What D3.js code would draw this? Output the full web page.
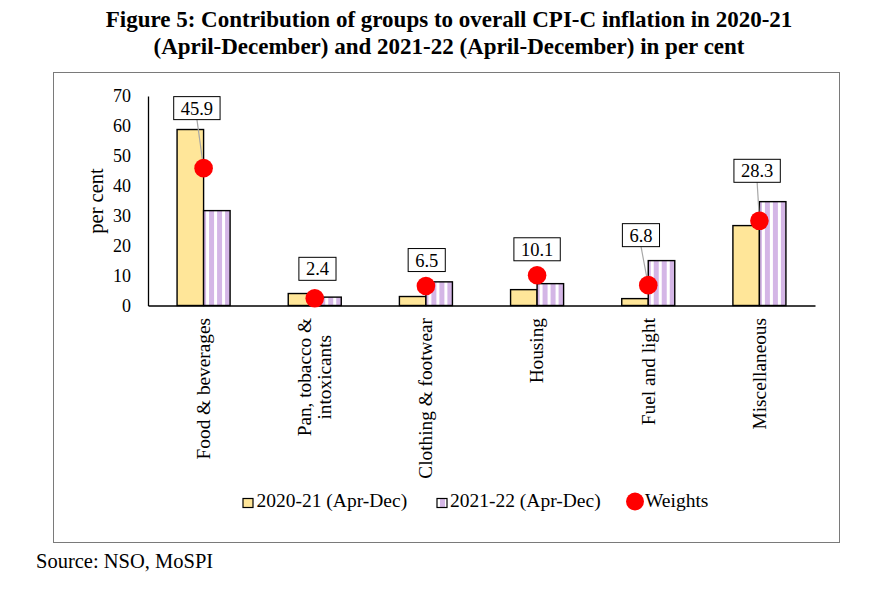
<!DOCTYPE html>
<html>
<head>
<meta charset="utf-8">
<script src="https://cdn.jsdelivr.net/npm/d3@7"></script>
<style>
  html, body { margin: 0; padding: 0; background: #fff; }
  svg { display: block; font-family: "Liberation Serif", "Times New Roman", serif; }
</style>
</head>
<body>
<svg id="chart" width="870" height="589"></svg>
<script>
// ---- data ----
const categories = ["Food & beverages", "Pan, tobacco &\nintoxicants", "Clothing & footwear", "Housing", "Fuel and light", "Miscellaneous"];
const series2020 = [58.8, 4.0, 3.0, 5.3, 2.3, 26.7];
const series2021 = [31.7, 2.8, 7.9, 7.3, 15.0, 34.7];
const weights = [45.9, 2.4, 6.5, 10.1, 6.8, 28.3];
const seriesNames = ["2020-21 (Apr-Dec)", "2021-22 (Apr-Dec)", "Weights"];
const yTicks = [0, 10, 20, 30, 40, 50, 60, 70];
const titleLines = ["Figure 5: Contribution of groups to overall CPI-C inflation in 2020-21", "(April-December) and 2021-22 (April-December) in per cent"];

// label placement (pixel offsets relative to the weight dot)
const labelLift = [60, 29.5, 26, 26, 50, 50];
const labelShift = [-6.7, 2.7, 0.8, 0, -7.3, -2.3];
const hasLeader = [true, false, false, false, true, true];

const svg = d3.select("#chart");
const YELLOW = "#FFE699", PURPLE = "#D4B6E6";

const defs = svg.append("defs");
const pat = defs.append("pattern").attr("id", "stripes").attr("patternUnits", "userSpaceOnUse")
  .attr("width", 8).attr("height", 8);
pat.append("rect").attr("width", 8).attr("height", 8).attr("fill", "#fff");
pat.append("rect").attr("x", 0).attr("width", 5).attr("height", 8).attr("fill", PURPLE);

// chart border
svg.append("rect").attr("x", 53.5).attr("y", 72.5).attr("width", 786).attr("height", 470)
  .attr("fill", "none").attr("stroke", "#7a7a7a").attr("stroke-width", 1);

// title
svg.append("g").selectAll("text").data(titleLines).join("text")
  .attr("x", 449).attr("y", (d, i) => 27 + i * 27)
  .attr("text-anchor", "middle").attr("font-weight", "bold").attr("font-size", 23)
  .text(d => d);

// scales
const x0 = d3.scaleBand().domain(categories).range([148, 815]).paddingInner(0.523).paddingOuter(0.2615);
const x1 = d3.scaleBand().domain([0, 1]).range([0, x0.bandwidth()]);
const y = d3.scaleLinear().domain([0, 70]).range([305.5, 96]);

// y axis
const yAxis = d3.axisLeft(y).tickValues(yTicks).tickSize(0).tickPadding(17);
const gy = svg.append("g").attr("transform", "translate(148,0)").call(yAxis);
gy.select(".domain").attr("stroke", "#000").attr("stroke-width", 1.3);
gy.selectAll(".tick text").attr("font-size", 18).attr("font-family", "Liberation Serif").attr("fill", "#000");

svg.append("text").attr("transform", "translate(103,201) rotate(-90)")
  .attr("text-anchor", "middle").attr("font-size", 20.5).text("per cent");

// bars
const groups = svg.append("g").selectAll("g").data(categories).join("g")
  .attr("transform", d => `translate(${x0(d)},0)`);
groups.append("rect")
  .attr("x", x1(0)).attr("width", x1.bandwidth())
  .attr("y", (d, i) => y(series2020[i])).attr("height", (d, i) => y(0) - y(series2020[i]))
  .attr("fill", YELLOW).attr("stroke", "#000").attr("stroke-width", 1.4);
groups.append("rect")
  .attr("x", x1(1)).attr("width", x1.bandwidth())
  .attr("y", (d, i) => y(series2021[i])).attr("height", (d, i) => y(0) - y(series2021[i]))
  .attr("fill", "url(#stripes)").attr("stroke", "#000").attr("stroke-width", 1.4);

// x axis
const xAxis = d3.axisBottom(x0).tickSize(0).tickFormat("");
const gx = svg.append("g").attr("transform", `translate(0,${y(0)})`).call(xAxis);
gx.select(".domain").attr("stroke", "#000").attr("stroke-width", 1.3);

// category labels (rotated)
const catG = svg.append("g");
categories.forEach((c, i) => {
  const lines = c.split("\n");
  const cx = x0(c) + x0.bandwidth() / 2;
  const t = catG.append("text").attr("font-size", 19.3).attr("text-anchor", "middle");
  const lh = 20;
  lines.forEach((ln, j) => {
    t.append("tspan").attr("x", 0).attr("y", (j - (lines.length - 1) / 2) * lh).attr("dy", "0.33em").text(ln);
  });
  let maxW = 0;
  t.selectAll("tspan").each(function () { maxW = Math.max(maxW, this.getComputedTextLength()); });
  t.attr("transform", `translate(${cx},${318 + maxW / 2}) rotate(-90)`);
});

// leader lines
const cxOf = i => x0(categories[i]) + x0.bandwidth() / 2;
svg.append("g").selectAll("line").data(weights.map((w, i) => i).filter(i => hasLeader[i])).join("line")
  .attr("x1", i => cxOf(i) + labelShift[i]).attr("y1", i => y(weights[i]) - labelLift[i] + 11)
  .attr("x2", i => cxOf(i)).attr("y2", i => y(weights[i]))
  .attr("stroke", "#a6a6a6").attr("stroke-width", 1.2);

// weight dots
svg.append("g").selectAll("circle").data(weights).join("circle")
  .attr("cx", (d, i) => cxOf(i)).attr("cy", d => y(d)).attr("r", 9.3).attr("fill", "#FF0000");

// data labels
const lab = svg.append("g").selectAll("g").data(weights).join("g")
  .attr("transform", (d, i) => `translate(${cxOf(i) + labelShift[i]},${y(d) - labelLift[i]})`);
lab.append("rect").attr("fill", "#fff").attr("stroke", "#000").attr("stroke-width", 1);
lab.append("text").attr("text-anchor", "middle").attr("dy", "0.35em").attr("font-size", 18.5)
  .text(d => d.toFixed(1));
lab.each(function () {
  const g = d3.select(this);
  const w = g.select("text").node().getComputedTextLength();
  g.select("rect").attr("x", -w / 2 - 7).attr("y", -11.5).attr("width", w + 14).attr("height", 23);
});

// legend
const leg = svg.append("g");
leg.append("rect").attr("x", 243).attr("y", 498.5).attr("width", 10).attr("height", 9)
  .attr("fill", YELLOW).attr("stroke", "#000").attr("stroke-width", 1.2);
leg.append("text").attr("x", 256.5).attr("y", 507).attr("font-size", 19.5).text(seriesNames[0]);
leg.append("rect").attr("x", 437).attr("y", 498.5).attr("width", 10).attr("height", 9)
  .attr("fill", "url(#stripes)").attr("stroke", "#000").attr("stroke-width", 1.2);
leg.append("text").attr("x", 450).attr("y", 507).attr("font-size", 19.5).text(seriesNames[1]);
leg.append("circle").attr("cx", 635).attr("cy", 501.5).attr("r", 9).attr("fill", "#FF0000");
leg.append("text").attr("x", 645).attr("y", 507).attr("font-size", 19.5).text(seriesNames[2]);

// source
svg.append("text").attr("x", 36).attr("y", 568).attr("font-size", 20.5).text("Source: NSO, MoSPI");
</script>
</body>
</html>
